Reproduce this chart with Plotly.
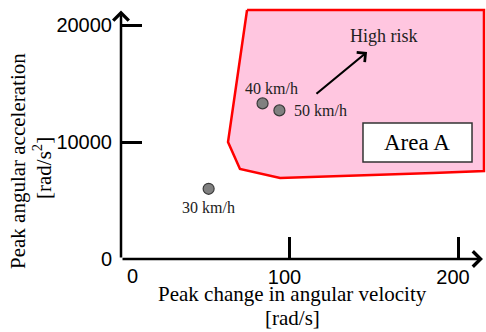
import plotly.graph_objects as go

# ---- data ----
speeds = ["30 km/h", "40 km/h", "50 km/h"]
ang_vel = [52, 84, 94]            # peak change in angular velocity [rad/s]
ang_acc = [6000, 13300, 12700]    # peak angular acceleration [rad/s^2]

area_x = [74.8, 215.4, 215.4, 185.2, 94.4, 70.6, 63.5, 74.8]
area_y = [21280, 21280, 7520, 7350, 6920, 7690, 10000, 21280]

x_ticks = [100, 200]
x_ticklabels = ["100", "200"]
y_ticks = [0, 10000, 20000]
y_ticklabels = ["0", "10000", "20000"]

x_title = ["Peak change in angular velocity", "[rad/s]"]
y_title = ["Peak angular acceleration", "[rad/s<sup>2</sup>]"]

X_RANGE = [0, 216.6]
Y_RANGE = [0, 22137]

SERIF = "Liberation Serif, Times New Roman, serif"
SANS = "Liberation Sans, Arial, sans-serif"

fig = go.Figure()

# Area A polygon
fig.add_trace(go.Scatter(
    x=area_x, y=area_y, mode="lines", fill="toself",
    fillcolor="#FFC6E0", line=dict(color="#FF0000", width=2.5),
    hoverinfo="skip", showlegend=False))

# data points
fig.add_trace(go.Scatter(
    x=ang_vel, y=ang_acc, mode="markers",
    marker=dict(size=11, color="#808080", line=dict(color="#3a3a3a", width=1.2)),
    showlegend=False, cliponaxis=False))

# point labels
label_offsets = [dict(xshift=0, yshift=-19, xanchor="center"),
                 dict(xshift=9, yshift=15, xanchor="center"),
                 dict(xshift=13, yshift=0, xanchor="left")]
for s, xv, yv, off in zip(speeds, ang_vel, ang_acc, label_offsets):
    fig.add_annotation(x=xv, y=yv, text=s, showarrow=False,
                       font=dict(family=SERIF, size=16, color="#222"),
                       yanchor="middle", **off)

# Area A box
fig.add_shape(type="rect", x0=143.6, x1=208.3, y0=8290, y1=11620,
              fillcolor="white", line=dict(color="#333", width=1.5))
fig.add_annotation(x=175.9, y=9955, text="Area A", showarrow=False,
                   font=dict(family=SERIF, size=23, color="black"))

# High risk arrow + label
fig.add_annotation(x=146.0, y=17690, ax=115.1, ay=14020, axref="x", ayref="y",
                   text="", showarrow=True, arrowhead=4, arrowsize=1.1,
                   arrowwidth=2.2, arrowcolor="black")
fig.add_annotation(x=156.1, y=19060, text="High risk", showarrow=False,
                   font=dict(family=SERIF, size=18, color="#222"))

# axes with arrows
fig.add_annotation(x=214.8, y=0, ax=0, ay=0, axref="x", ayref="y",
                   text="", showarrow=True, arrowhead=4, arrowsize=1.2,
                   arrowwidth=2.5, arrowcolor="black")
fig.add_annotation(x=0, y=21250, ax=0, ay=0, axref="x", ayref="y",
                   text="", showarrow=True, arrowhead=4, arrowsize=1.2,
                   arrowwidth=2.5, arrowcolor="black")

# x "0" tick label
fig.add_annotation(x=7.1, y=0, text="0", showarrow=False, yanchor="middle",
                   yshift=-17, font=dict(family=SANS, size=20, color="black"))

# axis titles (paper coordinates, outside the plot area)
title_font = dict(family=SERIF, size=21, color="black")
fig.add_annotation(xref="paper", yref="paper", x=0.4685, y=-0.1351,
                   xanchor="center", yanchor="middle",
                   text=x_title[0], showarrow=False, font=title_font)
fig.add_annotation(xref="paper", yref="paper", x=0.4685, y=-0.2278,
                   xanchor="center", yanchor="middle",
                   text=x_title[1], showarrow=False, font=title_font)
fig.add_annotation(xref="paper", yref="paper", x=-0.2822, y=0.3784,
                   xanchor="center", yanchor="middle",
                   text=y_title[0], showarrow=False, textangle=-90, font=title_font)
fig.add_annotation(xref="paper", yref="paper", x=-0.2137, y=0.3514,
                   xanchor="center", yanchor="middle",
                   text=y_title[1], showarrow=False, textangle=-90, font=title_font)

fig.update_xaxes(range=X_RANGE, showgrid=False, zeroline=False, showline=False,
                 tickvals=x_ticks, ticktext=x_ticklabels, ticks="inside",
                 ticklen=22, tickwidth=2.5, tickcolor="black", ticklabelstandoff=4,
                 ticklabelshift=-5,
                 tickfont=dict(family=SANS, size=20, color="black"))
fig.update_yaxes(range=Y_RANGE, showgrid=False, zeroline=False, showline=False,
                 tickvals=y_ticks, ticktext=y_ticklabels, ticks="inside",
                 ticklen=21, tickwidth=2.5, tickcolor="black", ticklabelstandoff=8,
                 tickfont=dict(family=SANS, size=20, color="black"))

fig.update_layout(width=486, height=332, margin=dict(l=121, r=0, t=0, b=73),
                  plot_bgcolor="white", paper_bgcolor="white")

fig.write_html("out.html")
